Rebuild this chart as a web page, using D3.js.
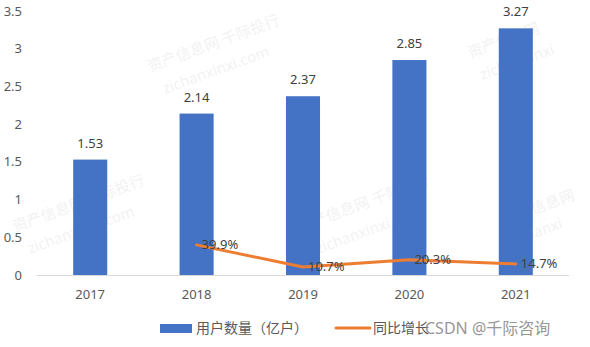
<!DOCTYPE html>
<html><head><meta charset="utf-8">
<script src="https://cdn.jsdelivr.net/npm/d3@7"></script>
<style>body{margin:0;background:#fff;} text{font-family:"Noto Sans","Noto Sans CJK SC",sans-serif;}</style>
</head><body><svg id="c" width="590" height="347"></svg>
<script>
const years = ["2017","2018","2019","2020","2021"];
const users = [1.53, 2.14, 2.37, 2.85, 3.27];
const growthYears = ["2018","2019","2020","2021"];
const growth = [39.9, 10.7, 20.3, 14.7];
const yTicks = [0, 0.5, 1, 1.5, 2, 2.5, 3, 3.5];
const seriesNames = ["用户数量（亿户）", "同比增长"];

const svg = d3.select("#c");
const x = d3.scaleBand().domain(years).range([37, 569]).paddingInner(0.68).paddingOuter(0.34);
const y = d3.scaleLinear().domain([0, 3.5]).range([275, 11]);
const yg = d3.scaleLinear().domain([0, 350]).range([275, 11]);

// faint watermarks
const wm = [[150,72,"资产信息网 千际投行"],[165,94,"zichanxinxi.com"],[470,58,"资产信息网"],[482,80,"zichanxinxi"],
            [15,232,"资产信息网 千际投行"],[30,254,"zichanxinxi.com"],[300,232,"资产信息网 千际投行"],[318,254,"zichanxinxi.com"],
            [505,225,"资产信息网"],[510,247,"zichanxi"]];
svg.append("g").selectAll("text").data(wm).join("text")
  .attr("transform", d => `translate(${d[0]},${d[1]}) rotate(-20)`)
  .attr("fill","#000").attr("opacity",0.05).attr("font-size",15)
  .text(d => d[2]);

// y axis labels
svg.append("g").selectAll("text").data(yTicks).join("text")
  .attr("x", 22).attr("y", d => y(d)).attr("dy","0.35em")
  .attr("text-anchor","end").attr("font-size",13).attr("fill","#595959")
  .text(d => d);

// baseline
svg.append("line").attr("x1",37).attr("x2",569).attr("y1",y(0)+0.5).attr("y2",y(0)+0.5)
  .attr("stroke","#d9d9d9").attr("stroke-width",1);

// bars
svg.append("g").selectAll("rect").data(users).join("rect")
  .attr("x",(d,i)=>x(years[i])).attr("width",x.bandwidth())
  .attr("y",d=>y(d)).attr("height",d=>y(0)-y(d)).attr("fill","#4472C4");

svg.append("g").selectAll("text").data(users).join("text")
  .attr("x",(d,i)=>x(years[i])+x.bandwidth()/2).attr("y",d=>y(d)-12)
  .attr("text-anchor","middle").attr("font-size",13).attr("fill","#404040")
  .text(d=>d.toFixed(2));

// x labels
svg.append("g").selectAll("text").data(years).join("text")
  .attr("x",d=>x(d)+x.bandwidth()/2).attr("y",299)
  .attr("text-anchor","middle").attr("font-size",13).attr("fill","#595959")
  .text(d=>d);

// growth line
const line = d3.line().x((d,i)=>x(growthYears[i])+x.bandwidth()/2).y(d=>yg(d));
svg.append("path").datum(growth).attr("d",line).attr("fill","none")
  .attr("stroke","#ED7D31").attr("stroke-width",3).attr("stroke-linejoin","round").attr("stroke-linecap","round");

svg.append("g").selectAll("text").data(growth).join("text")
  .attr("x",(d,i)=>x(growthYears[i])+x.bandwidth()/2+5).attr("y",d=>yg(d)).attr("dy","0.35em")
  .attr("font-size",13).attr("fill","#404040")
  .text(d=>d.toFixed(1)+"%");

// legend
const lg = svg.append("g");
lg.append("rect").attr("x",160).attr("y",324).attr("width",32).attr("height",9).attr("fill","#4472C4");
lg.append("text").attr("x",196).attr("y",328.5).attr("dy","0.35em").attr("font-size",14).attr("fill","#595959").text(seriesNames[0]);
lg.append("line").attr("x1",336).attr("x2",370).attr("y1",328).attr("y2",328).attr("stroke","#ED7D31").attr("stroke-width",3).attr("stroke-linecap","round");
lg.append("text").attr("x",373).attr("y",328.5).attr("dy","0.35em").attr("font-size",14).attr("fill","#595959").text(seriesNames[1]);
lg.append("text").attr("x",425).attr("y",328.5).attr("dy","0.35em").attr("font-size",16).attr("fill","#8c8c8c").attr("opacity",0.9).text("CSDN @千际咨询");
</script></body></html>
